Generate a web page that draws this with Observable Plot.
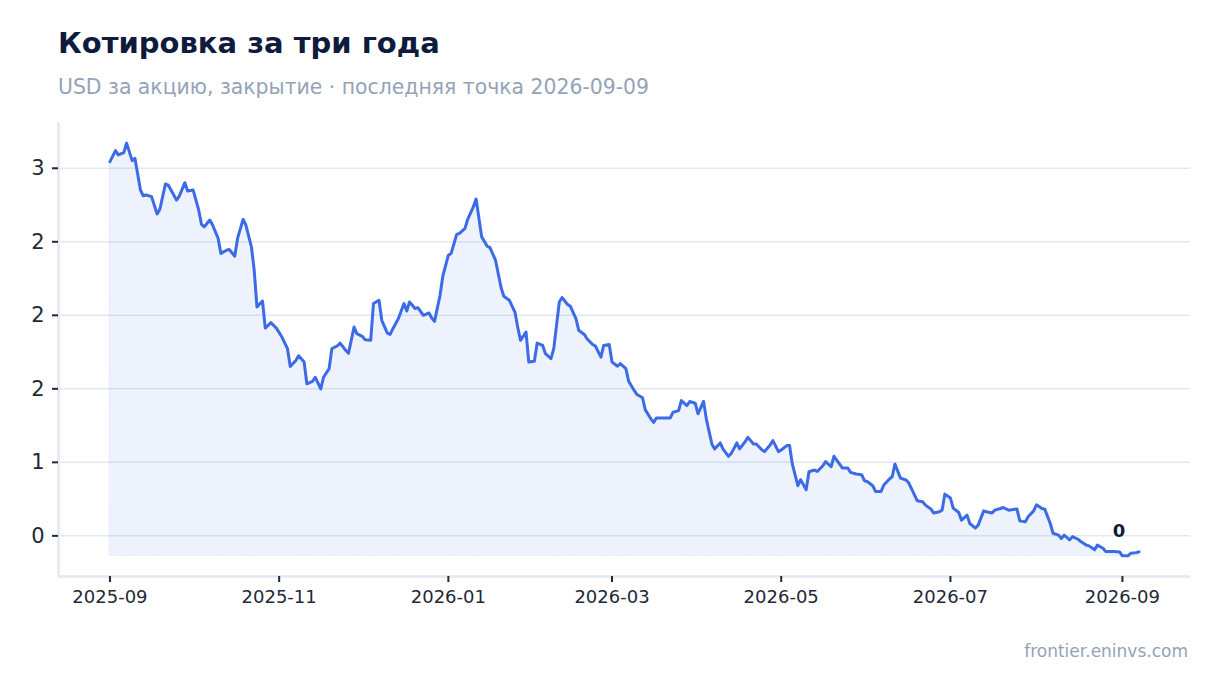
<!DOCTYPE html>
<html>
<head>
<meta charset="utf-8">
<script src="https://cdn.jsdelivr.net/npm/d3@7"></script>
<script src="https://cdn.jsdelivr.net/npm/@observablehq/plot@0.6"></script>
<style>
  html, body { margin: 0; padding: 0; background: #ffffff; overflow: hidden; }
  #wrap { position: relative; width: 1220px; height: 693px; font-family: "DejaVu Sans", sans-serif; }
  .title { position: absolute; left: 58px; top: 29px; font: bold 29px/1 "DejaVu Sans", sans-serif; color: #0f1b3d; white-space: nowrap; }
  .subtitle { position: absolute; left: 58px; top: 77px; font: 20.4px/1 "DejaVu Sans", sans-serif; color: #94a3b8; white-space: nowrap; }
  #chart { position: absolute; left: 0; top: 110px; }
  .caption { position: absolute; right: 32px; top: 643px; font: 17px/1 "DejaVu Sans", sans-serif; color: #94a3b8; white-space: nowrap; }
</style>
</head>
<body>
<div id="wrap">
  <div class="title">Котировка за три года</div>
  <div class="subtitle">USD за акцию, закрытие · последняя точка 2026-09-09</div>
  <div id="chart"></div>
  <div class="caption">frontier.eninvs.com</div>
</div>
<script>
const dates = [
  "2025-09-01","2025-09-03","2025-09-04","2025-09-06","2025-09-07","2025-09-09","2025-09-10","2025-09-12","2025-09-13","2025-09-14",
  "2025-09-16","2025-09-18","2025-09-19","2025-09-21","2025-09-22","2025-09-23","2025-09-25","2025-09-26","2025-09-28","2025-09-29",
  "2025-10-01","2025-10-03","2025-10-04","2025-10-05","2025-10-07","2025-10-08","2025-10-10","2025-10-11","2025-10-13","2025-10-14",
  "2025-10-16","2025-10-17","2025-10-19","2025-10-20","2025-10-22","2025-10-23","2025-10-24","2025-10-26","2025-10-27","2025-10-29",
  "2025-10-31","2025-11-02","2025-11-04","2025-11-05","2025-11-07","2025-11-08","2025-11-10","2025-11-11","2025-11-13","2025-11-14",
  "2025-11-16","2025-11-17","2025-11-19","2025-11-20","2025-11-22","2025-11-23","2025-11-25","2025-11-26","2025-11-28","2025-11-29",
  "2025-12-01","2025-12-02","2025-12-04","2025-12-05","2025-12-07","2025-12-08","2025-12-10","2025-12-11","2025-12-12","2025-12-14",
  "2025-12-16","2025-12-17","2025-12-18","2025-12-20","2025-12-21","2025-12-23","2025-12-25","2025-12-26","2025-12-27","2025-12-29",
  "2025-12-30","2026-01-01","2026-01-02","2026-01-04","2026-01-05","2026-01-07","2026-01-08","2026-01-10","2026-01-11","2026-01-13",
  "2026-01-15","2026-01-16","2026-01-18","2026-01-20","2026-01-21","2026-01-23","2026-01-25","2026-01-26","2026-01-27","2026-01-29",
  "2026-01-30","2026-02-01","2026-02-02","2026-02-04","2026-02-05","2026-02-07","2026-02-08","2026-02-10","2026-02-11","2026-02-13",
  "2026-02-14","2026-02-16","2026-02-17","2026-02-19","2026-02-20","2026-02-22","2026-02-23","2026-02-25","2026-02-26","2026-02-28",
  "2026-03-01","2026-03-03","2026-03-04","2026-03-06","2026-03-07","2026-03-09","2026-03-10","2026-03-12","2026-03-13","2026-03-15",
  "2026-03-16","2026-03-17","2026-03-19","2026-03-20","2026-03-22","2026-03-23","2026-03-25","2026-03-26","2026-03-28","2026-03-29",
  "2026-03-31","2026-04-01","2026-04-03","2026-04-04","2026-04-06","2026-04-07","2026-04-09","2026-04-10","2026-04-12","2026-04-13",
  "2026-04-15","2026-04-16","2026-04-18","2026-04-19","2026-04-21","2026-04-22","2026-04-24","2026-04-25","2026-04-27","2026-04-28",
  "2026-04-30","2026-05-01","2026-05-03","2026-05-04","2026-05-05","2026-05-07","2026-05-08","2026-05-10","2026-05-11","2026-05-13",
  "2026-05-14","2026-05-16","2026-05-17","2026-05-19","2026-05-20","2026-05-22","2026-05-23","2026-05-25","2026-05-26","2026-05-28",
  "2026-05-30","2026-05-31","2026-06-01","2026-06-03","2026-06-04","2026-06-06","2026-06-07","2026-06-09","2026-06-10","2026-06-11",
  "2026-06-13","2026-06-15","2026-06-16","2026-06-18","2026-06-19","2026-06-21","2026-06-22","2026-06-24","2026-06-25","2026-06-27",
  "2026-06-28","2026-06-29","2026-07-01","2026-07-02","2026-07-04","2026-07-05","2026-07-07","2026-07-08","2026-07-10","2026-07-11",
  "2026-07-13","2026-07-14","2026-07-16","2026-07-17","2026-07-19","2026-07-20","2026-07-22","2026-07-23","2026-07-25","2026-07-26",
  "2026-07-28","2026-07-29","2026-07-31","2026-08-01","2026-08-03","2026-08-04","2026-08-06","2026-08-07","2026-08-09","2026-08-10",
  "2026-08-11","2026-08-13","2026-08-14","2026-08-16","2026-08-17","2026-08-19","2026-08-20","2026-08-22","2026-08-23","2026-08-25",
  "2026-08-26","2026-08-28","2026-08-29","2026-08-31","2026-09-01","2026-09-03","2026-09-04","2026-09-06","2026-09-07"
];
const prices = [
  2.545,2.620,2.591,2.607,2.671,2.552,2.568,2.352,2.313,2.318,
  2.307,2.189,2.221,2.393,2.386,2.352,2.284,2.311,2.402,2.345,
  2.352,2.216,2.118,2.102,2.148,2.114,2.023,1.921,1.943,1.948,
  1.902,2.023,2.152,2.114,1.966,1.807,1.557,1.597,1.413,1.450,
  1.413,1.352,1.273,1.152,1.193,1.225,1.182,1.034,1.050,1.079,
  1.000,1.079,1.137,1.273,1.293,1.311,1.261,1.243,1.420,1.375,
  1.357,1.334,1.330,1.580,1.602,1.466,1.379,1.370,1.409,1.478,
  1.580,1.529,1.591,1.546,1.552,1.500,1.516,1.482,1.459,1.636,
  1.766,1.909,1.921,2.050,2.057,2.091,2.155,2.238,2.291,2.034,
  1.970,1.960,1.875,1.689,1.630,1.602,1.522,1.420,1.330,1.386,
  1.182,1.188,1.311,1.295,1.239,1.205,1.273,1.591,1.621,1.573,
  1.561,1.478,1.398,1.370,1.341,1.302,1.291,1.216,1.295,1.302,
  1.182,1.154,1.171,1.137,1.052,0.989,0.961,0.939,0.857,0.796,
  0.772,0.802,0.802,0.802,0.802,0.841,0.852,0.920,0.886,0.914,
  0.902,0.830,0.914,0.796,0.625,0.591,0.632,0.591,0.541,0.561,
  0.632,0.591,0.641,0.670,0.625,0.625,0.586,0.573,0.618,0.648,
  0.573,0.584,0.614,0.614,0.489,0.341,0.382,0.314,0.436,0.448,
  0.438,0.477,0.505,0.470,0.541,0.489,0.462,0.462,0.432,0.421,
  0.416,0.375,0.370,0.341,0.302,0.302,0.346,0.387,0.402,0.489,
  0.393,0.380,0.359,0.280,0.239,0.232,0.209,0.182,0.155,0.164,
  0.175,0.284,0.257,0.189,0.159,0.107,0.141,0.084,0.053,0.073,
  0.170,0.164,0.155,0.175,0.186,0.193,0.175,0.177,0.182,0.102,
  0.095,0.130,0.170,0.211,0.186,0.182,0.084,0.018,0.005,-0.018,
  0.005,-0.027,-0.005,-0.023,-0.039,-0.063,-0.068,-0.095,-0.063,-0.084,
  -0.107,-0.107,-0.107,-0.109,-0.136,-0.136,-0.118,-0.114,-0.109
];
const yTicks = [0, 0.5, 1, 1.5, 2, 2.5];
const yTickLabels = ["0", "1", "2", "2", "2", "3"];
const xTicks = ["2025-09-01", "2025-11-01", "2026-01-01", "2026-03-01", "2026-05-01", "2026-07-01", "2026-09-01"];

const lineColor = "#3b6be6";
const gridColor = "#e2e8f0";
const inkColor = "#1f2937";

const data = dates.map((d, i) => ({date: new Date(d + "T00:00:00Z"), price: prices[i]}));
const xTickDates = xTicks.map(d => new Date(d + "T00:00:00Z"));

const [t0, t1] = d3.extent(data, d => d.date);
const tPad = (t1 - t0) * 0.05;
const xDomain = [new Date(+t0 - tPad), new Date(+t1 + tPad)];
const [vMin, vMax] = d3.extent(data, d => d.price);
const vPad = (vMax - vMin) * 0.05;
const yDomain = [vMin - vPad, vMax + vPad];
const last = data[data.length - 1];

const chart = Plot.plot({
  width: 1220,
  height: 510,
  marginTop: 12,
  marginBottom: 44,
  marginLeft: 58,
  marginRight: 30,
  style: {fontFamily: "DejaVu Sans, sans-serif", fontSize: "18px", color: inkColor, background: "transparent"},
  x: {type: "utc", domain: xDomain},
  y: {domain: yDomain},
  marks: [
    Plot.ruleY(yTicks, {stroke: gridColor, strokeWidth: 1.5}),
    Plot.ruleX([xDomain[0]], {stroke: gridColor, strokeWidth: 2.5}),
    Plot.ruleY([yDomain[0]], {stroke: gridColor, strokeWidth: 2.5}),
    Plot.areaY(data, {x: "date", y1: vMin, y2: "price", fill: lineColor, fillOpacity: 0.09, stroke: lineColor, strokeOpacity: 0.1, strokeWidth: 1}),
    Plot.lineY(data, {x: "date", y: "price", stroke: lineColor, strokeWidth: 3, strokeLinejoin: "round", strokeLinecap: "round"}),
    Plot.text([last], {x: "date", y: "price", text: d => String(Math.round(d.price)), dx: -20, dy: -21, fontWeight: "bold", fontSize: 18, fill: "#0f1b3d"}),
    Plot.axisY({ticks: yTicks, tickFormat: d => yTickLabels[yTicks.indexOf(d)], tickSize: 6, tickPadding: 8, strokeWidth: 2, label: null, fontSize: 21}),
    Plot.axisX({ticks: xTickDates, tickFormat: d3.utcFormat("%Y-%m"), tickSize: 6, tickPadding: 8, strokeWidth: 2, label: null, fontSize: 18})
  ]
});
document.getElementById("chart").appendChild(chart);
</script>
</body>
</html>
